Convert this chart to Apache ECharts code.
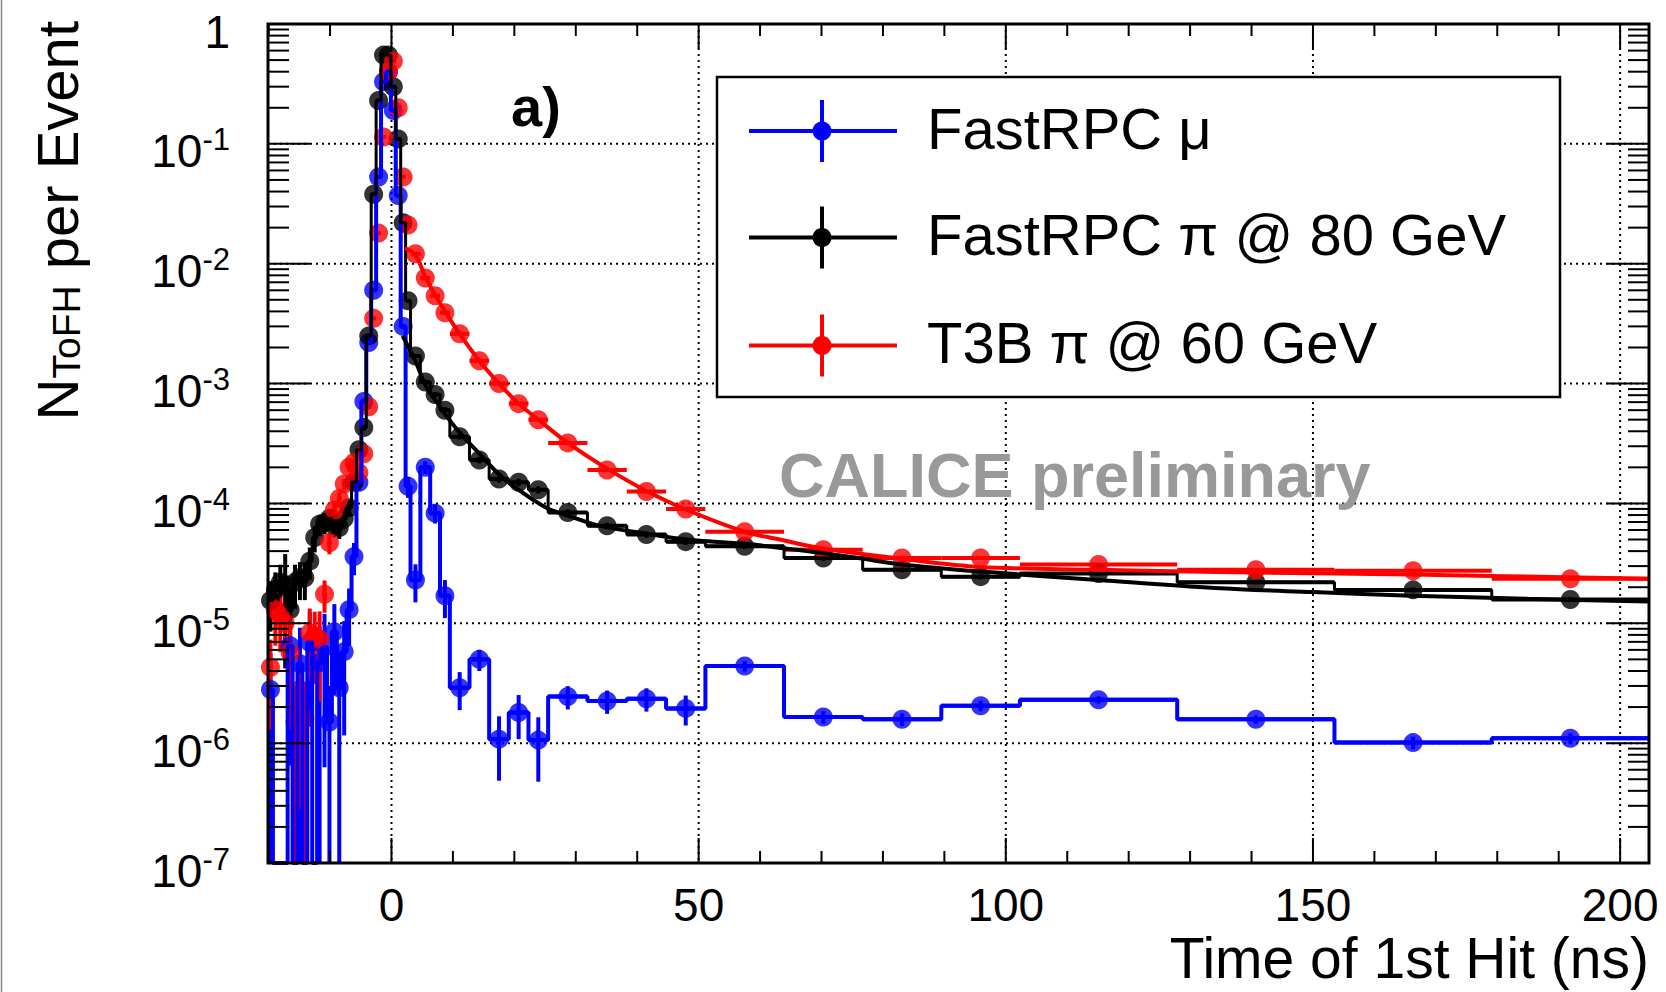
<!DOCTYPE html>
<html>
<head>
<meta charset="utf-8">
<script src="https://cdn.jsdelivr.net/npm/echarts@6/dist/echarts.min.js"></script>
<style>
html,body{margin:0;padding:0;background:#fff;}
#c{width:1666px;height:992px;}
</style>
</head>
<body>
<div id="c"></div>
<script>
// ---------------- DATA ----------------
// Histogram bin edges (ns), shared by all three samples
const binEdges = [-20.1,-19.3,-18.5,-17.7,-16.9,-16.1,-15.3,-14.5,-13.7,-12.9,-12.1,-11.3,-10.5,-9.7,-8.9,-8.1,-7.3,-6.5,-5.7,-4.9,-4.1,
  -3.3,-2.5,-1.7,-0.9,-0.1,0.7,1.5,2.3,3.1,
  4.7,6.3,7.9,9.5,
  12.7,15.9,19.1,22.3,25.5,
  31.9,38.3,44.7,51.1,
  63.9,76.7,89.5,102.3,
  127.9,153.5,179.1,204.7];

// FastRPC mu
const blueVals = [2.8e-6,0,0,0,6.5e-6,0,4.6e-6,0,6.9e-6,0,
  4.7e-6,6.3e-6,1.5e-6,8.5e-6,2.9e-6,5.8e-6,1.3e-5,3.6e-5,1.5e-4,7.1e-4,
  2.2e-3,6.0e-3,0.053,0.33,0.40,0.19,0.037,3.0e-3,1.39e-4,
  2.3e-5,2.0e-4,8.3e-5,1.7e-5,
  2.9e-6,5.0e-6,1.08e-6,1.8e-6,1.06e-6,
  2.45e-6,2.25e-6,2.35e-6,1.95e-6,
  4.4e-6,1.65e-6,1.58e-6,2.05e-6,
  2.3e-6,1.58e-6,1.01e-6,1.1e-6];
const blueRelErr = [1.0,0,0,0,0.9,0,1.0,0,0.8,0,
  1.0,0.9,1.0,0.7,1.0,0.8,0.5,0.3,0.15,0.07,
  0.04,0.03,0.02,0.02,0.02,0.02,0.02,0.04,0.2,
  0.35,0.12,0.18,0.35,
  0.35,0.2,0.55,0.4,0.55,
  0.22,0.22,0.22,0.28,
  0.1,0.12,0.12,0.1,
  0.07,0.08,0.12,0.1];

// FastRPC pi @ 80 GeV
const blackVals = [1.55e-5,1.9e-5,2.2e-5,2.1e-5,1.3e-5,2.2e-5,2.4e-5,2.4e-5,3.3e-5,5.2e-5,
  6.7e-5,6.9e-5,7.5e-5,6.5e-5,6.3e-5,7.5e-5,9.2e-5,1.5e-4,2.8e-4,4.3e-4,
  2.5e-3,0.038,0.23,0.55,0.55,0.30,0.11,0.022,4.9e-3,
  1.7e-3,1.03e-3,8.1e-4,6.0e-4,
  3.6e-4,2.3e-4,1.6e-4,1.5e-4,1.3e-4,
  8.4e-5,6.5e-5,5.5e-5,4.8e-5,
  4.4e-5,3.5e-5,2.8e-5,2.45e-5,
  2.6e-5,2.2e-5,1.9e-5,1.58e-5];
const blackRelErr = [0.45,0.4,0.4,0.8,0.5,0.4,0.35,0.35,0.3,0.25,
  0.2,0.2,0.2,0.2,0.2,0.18,0.15,0.1,0.08,0.06,
  0.03,0.02,0.02,0.02,0.02,0.02,0.02,0.02,0.03,
  0.04,0.05,0.05,0.06,
  0.05,0.06,0.07,0.07,0.07,
  0.06,0.06,0.06,0.06,
  0.05,0.05,0.05,0.05,
  0.04,0.04,0.05,0.05];
const blackFitX = [1.8,2.8,4.0,5.6,7.2,8.9,11.1,14.3,17.5,19.8,25.2,30,33.9,41.5,48,57.5,66,76,83,96,115,134,150,166,185,204.7];
const blackFitY = [2.5e-3,2.0e-3,1.5e-3,9.5e-4,7.2e-4,5.4e-4,3.9e-4,2.6e-4,1.75e-4,1.4e-4,9.2e-5,7.5e-5,6.5e-5,5.6e-5,5.0e-5,4.6e-5,4.1e-5,3.5e-5,3.1e-5,2.7e-5,2.3e-5,1.97e-5,1.82e-5,1.7e-5,1.6e-5,1.52e-5];

// T3B pi @ 60 GeV
const redVals = [4.3e-6,1.3e-5,1.15e-5,1.0e-5,5.7e-6,1.5e-6,2.8e-6,1.6e-6,8.3e-6,7.8e-6,
  7.4e-6,1.75e-5,4.7e-5,8.8e-5,1.1e-4,1.45e-4,2.0e-4,2.2e-4,1.8e-4,2.6e-4,
  6.4e-4,3.5e-3,0.018,0.114,0.40,0.49,0.20,0.053,0.021,
  0.0121,0.0076,0.0054,0.0039,
  0.0026,0.00155,0.0010,6.8e-4,5.0e-4,
  3.2e-4,1.9e-4,1.26e-4,9.0e-5,
  5.8e-5,4.1e-5,3.5e-5,3.5e-5,
  3.1e-5,2.8e-5,2.74e-5,2.35e-5];
const redRelErr = [0.7,0.5,0.5,0.5,0.7,1.0,0.9,1.0,0.6,0.6,
  0.7,0.3,0.2,0.15,0.12,0.1,0.08,0.08,0.08,0.06,
  0.04,0.02,0.02,0.02,0.02,0.02,0.02,0.02,0.02,
  0.02,0.02,0.03,0.03,
  0.03,0.03,0.03,0.03,0.03,
  0.03,0.03,0.03,0.03,
  0.03,0.03,0.03,0.03,
  0.03,0.03,0.03,0.03];
const redFitX = [2.2,3.9,5.5,7.1,8.7,11.1,14.3,17.5,20.7,23.9,28.7,35.1,41.5,47.9,57.5,63.2,70.3,83.1,95.9,115,134.7,166,204.7];
const redFitY = [0.0135,0.0118,0.0078,0.0055,0.0040,0.0026,0.00155,0.00100,6.8e-4,5.0e-4,3.2e-4,1.95e-4,1.27e-4,8.9e-5,5.8e-5,5.0e-5,4.2e-5,3.45e-5,2.95e-5,2.8e-5,2.68e-5,2.55e-5,2.35e-5];

// Axis ticks / labels
const xTickLabels = [0,50,100,150,200];
const yDecades = [1e-7,1e-6,1e-5,1e-4,1e-3,1e-2,1e-1,1];
const legendNames = ['FastRPC \u03bc','FastRPC \u03c0 @ 80 GeV','T3B \u03c0 @ 60 GeV'];

// ---------------- SETUP ----------------
const X_MIN = -20.1, X_MAX = 204.7, Y_MIN = 1e-7, Y_MAX = 1;
const FONT = "'Liberation Sans', Arial, Helvetica, sans-serif";
const BLUE = '#0000ff', BLACK = '#000000', RED = '#ff0000';

const centers = binEdges.slice(0,-1).map((e,i)=>(e+binEdges[i+1])/2);
function histData(vals){
  const pts=[];
  vals.forEach((v,i)=>{ const y = v>0? v: Y_MIN; pts.push([binEdges[i],y],[binEdges[i+1],y]); });
  return pts;
}
function markerData(vals){ return vals.map((v,i)=> v>0? [centers[i],v]: null).filter(Boolean); }
function errorData(vals, rel){
  return vals.map((v,i)=> v>0? [centers[i], v, binEdges[i], binEdges[i+1], Math.max(v*(1-rel[i]), Y_MIN), Math.min(v*(1+rel[i]), Y_MAX)] : null).filter(Boolean);
}
function fitData(xs, ys){ return xs.map((x,i)=>[x, ys[i]]); }

function ln(x1,y1,x2,y2,stroke,w,dash){
  const st = {stroke:stroke, lineWidth:w};
  if (dash) st.lineDash = dash;
  return {type:'line', shape:{x1:x1,y1:y1,x2:x2,y2:y2}, style:st};
}

function errSeries(vals, rel, color){
  return {
    type:'custom', coordinateSystem:'cartesian2d', clip:true,
    dimensions:['x','y','lo','hi','yl','yh'], encode:{x:0,y:1},
    data: errorData(vals, rel),
    renderItem: function(params, api){
      const xc=api.value(0), y=api.value(1), lo=api.value(2), hi=api.value(3), yl=api.value(4), yh=api.value(5);
      const pL=api.coord([lo,y]), pR=api.coord([hi,y]), pB=api.coord([xc,yl]), pT=api.coord([xc,yh]);
      return {type:'group', children:[
        ln(pL[0],pL[1],pR[0],pR[1],color,4),
        ln(pB[0],pB[1],pT[0],pT[1],color,4)
      ]};
    }
  };
}
function histSeries(vals, color, w){
  return {type:'line', data:histData(vals), showSymbol:false, symbol:'none', clip:true,
    lineStyle:{color:color, width:w}, itemStyle:{color:color}};
}
function markerSeries(vals, color){
  return {type:'scatter', data:markerData(vals), symbol:'circle', symbolSize:19, itemStyle:{color:color}};
}
function fitSeries(xs, ys, color){
  return {type:'line', data:fitData(xs,ys), smooth:0.35, showSymbol:false, symbol:'none', clip:true,
    lineStyle:{color:color, width:4}};
}

// grid lines & ticks data (axis decoration)
const gridData = [];
xTickLabels.forEach(v=>gridData.push([v, Y_MIN, 0]));
yDecades.slice(1,-1).forEach(v=>gridData.push([X_MIN, v, 1]));

const tickData = [];
for (let v=-20; v<=200; v+=10){
  tickData.push([v, Y_MIN, xTickLabels.indexOf(v)>=0 ? 25 : 12, 0]);
}
for (let k=-7; k<=0; k++){
  const d = Math.pow(10,k);
  if (k>-7 && k<0) tickData.push([X_MIN, d, 42, 1]);
  if (k<0) for (let m=2; m<=9; m++) tickData.push([X_MIN, m*d, 21, 1]);
}

const option = {
  animation:false,
  backgroundColor:'#ffffff',
  grid:{left:268, top:24, width:1381, height:839, show:false},
  xAxis:{type:'value', min:X_MIN, max:X_MAX,
    axisLine:{show:false}, axisTick:{show:false}, splitLine:{show:false},
    axisLabel:{customValues:xTickLabels, fontSize:46, lineHeight:36, color:'#000', fontFamily:FONT, margin:24}},
  yAxis:{type:'log', logBase:10, min:Y_MIN, max:Y_MAX,
    axisLine:{show:false}, axisTick:{show:false}, splitLine:{show:false},
    axisLabel:{customValues:yDecades, margin:38, padding:[11,0,0,0], color:'#000',
      formatter:function(v){ const e=Math.round(Math.log10(v)); return e===0? '{b|1}' : '{b|10}{s|'+e+'}'; },
      rich:{
        b:{fontSize:46, lineHeight:50, verticalAlign:'bottom', fontFamily:FONT, color:'#000'},
        s:{fontSize:31, lineHeight:20, verticalAlign:'top', fontFamily:FONT, color:'#000'}
      }}},
  series:[
    // dotted grid
    {type:'custom', coordinateSystem:'cartesian2d', dimensions:['x','y','d'], encode:{x:0,y:1}, data:gridData, z:1,
      renderItem:function(params, api){
        const tl=api.coord([X_MIN,Y_MAX]), br=api.coord([X_MAX,Y_MIN]);
        if (api.value(2)===0){ const x=api.coord([api.value(0),Y_MIN])[0]; return ln(x,tl[1],x,br[1],'#000',2,[2,4]); }
        const y=api.coord([X_MIN,api.value(1)])[1]; return ln(tl[0],y,br[0],y,'#000',2,[2,4]);
      }},
    histSeries(blueVals, BLUE, 4),
    errSeries(blueVals, blueRelErr, BLUE),
    markerSeries(blueVals, BLUE),
    histSeries(blackVals, BLACK, 3),
    errSeries(blackVals, blackRelErr, BLACK),
    markerSeries(blackVals, BLACK),
    fitSeries(blackFitX, blackFitY, BLACK),
    errSeries(redVals, redRelErr, RED),
    markerSeries(redVals, RED),
    fitSeries(redFitX, redFitY, RED),
    // ticks and frame
    {type:'custom', coordinateSystem:'cartesian2d', dimensions:['x','y','len','d'], encode:{x:0,y:1}, data:tickData, z:20,
      renderItem:function(params, api){
        const tl=api.coord([X_MIN,Y_MAX]), br=api.coord([X_MAX,Y_MIN]);
        const len=api.value(2);
        if (api.value(3)===0){
          const x=api.coord([api.value(0),Y_MIN])[0];
          return {type:'group', children:[ln(x,br[1],x,br[1]-len,'#000',2), ln(x,tl[1],x,tl[1]+len,'#000',2)]};
        }
        const y=api.coord([X_MIN,api.value(1)])[1];
        return {type:'group', children:[ln(tl[0],y,tl[0]+len,y,'#000',2), ln(br[0],y,br[0]-len,y,'#000',2)]};
      }},
    {type:'custom', coordinateSystem:'cartesian2d', dimensions:['x','y'], encode:{x:0,y:1}, data:[[X_MIN,Y_MIN]], z:21,
      renderItem:function(params, api){
        const tl=api.coord([X_MIN,Y_MAX]), br=api.coord([X_MAX,Y_MIN]);
        return {type:'rect', shape:{x:tl[0],y:tl[1],width:br[0]-tl[0],height:br[1]-tl[1]}, style:{fill:'none', stroke:'#000', lineWidth:3}};
      }}
  ],
  graphic:[]
};

// legend, titles and annotations
const G = option.graphic;
G.push({type:'line', shape:{x1:1.5,y1:0,x2:1.5,y2:992}, style:{stroke:'#888', lineWidth:1.5}, z:50});
G.push({type:'rect', shape:{x:717,y:77,width:843,height:320}, style:{fill:'#fff', stroke:'#000', lineWidth:2.5}, z:100});
const legColors = [BLUE, BLACK, RED];
const legRows = [131, 237.5, 345.5];
legRows.forEach((y,i)=>{
  G.push({type:'line', shape:{x1:749,y1:y,x2:897,y2:y}, style:{stroke:legColors[i], lineWidth:4}, z:101});
  G.push({type:'line', shape:{x1:822,y1:y-31,x2:822,y2:y+31}, style:{stroke:legColors[i], lineWidth:4}, z:101});
  G.push({type:'circle', shape:{cx:822,cy:y,r:9.5}, style:{fill:legColors[i]}, z:102});
  G.push({type:'text', x:927, y:y-3, style:{text:legendNames[i], fill:'#000', font:'58px '+FONT, align:'left', verticalAlign:'middle'}, z:102});
});
G.push({type:'text', x:536, y:106, style:{text:'a)', fill:'#000', font:'bold 56px '+FONT, align:'center', verticalAlign:'middle'}, z:60});
G.push({type:'text', x:779, y:475, style:{text:'CALICE preliminary', fill:'#999999', font:'bold 63px '+FONT, align:'left', verticalAlign:'middle'}, z:60});
G.push({type:'text', x:1649, y:958, style:{text:'Time of 1st Hit (ns)', fill:'#000', font:'57px '+FONT, lineHeight:50, align:'right', verticalAlign:'middle'}, z:60});
G.push({type:'text', x:57, y:21, rotation:Math.PI/2, style:{
  text:'{n|N}{sub|ToFH}{n| per Event}', align:'right', verticalAlign:'middle',
  rich:{
    n:{fontSize:58, lineHeight:58, fontFamily:FONT, fill:'#000', color:'#000'},
    sub:{fontSize:39, lineHeight:16, verticalAlign:'bottom', fontFamily:FONT, fill:'#000', color:'#000'}
  }}, z:60});

const chart = echarts.init(document.getElementById('c'), null, {renderer:'svg', width:1666, height:992});
chart.setOption(option);
</script>
</body>
</html>
